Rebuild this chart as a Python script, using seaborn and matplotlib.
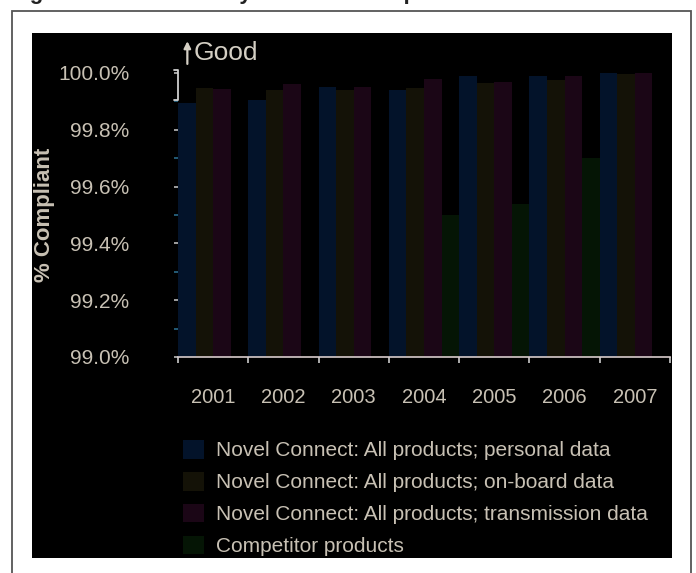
import matplotlib
matplotlib.use("Agg")
import matplotlib.pyplot as plt
import matplotlib.patches as mpatches
import numpy as np
import pandas as pd
import seaborn as sns

# values (% compliant); None = no visible bar
years = ["2001", "2002", "2003", "2004", "2005", "2006", "2007"]
personal = [99.895, 99.905, 99.95, 99.94, 99.99, 99.99, 100.0]
onboard = [99.947, 99.94, 99.94, 99.947, 99.965, 99.975, 99.997]
transmission = [99.944, 99.96, 99.95, 99.98, 99.97, 99.99, 100.0]
competitor = [None, None, None, 99.50, 99.54, 99.70, None]

series = ["Novel Connect: All products; personal data",
          "Novel Connect: All products; on-board data",
          "Novel Connect: All products; transmission data",
          "Competitor products"]
colors = ["#03132a", "#141207", "#1b0616", "#051505"]
yticks = [99.0, 99.2, 99.4, 99.6, 99.8, 100.0]

rows = []
for name, vals in zip(series, [personal, onboard, transmission, competitor]):
    for yr, v in zip(years, vals):
        rows.append({"year": yr, "series": name, "value": v})
df = pd.DataFrame(rows).dropna()

sns.set_style("dark")
font = ["Liberation Sans", "DejaVu Sans"]
txt = "#c8c1b4"

W, H = 696, 573
fig = plt.figure(figsize=(W / 100, H / 100), dpi=100, facecolor="white")

# frame and black panel (behind the axes)
fig.patches.append(mpatches.Rectangle((12 / W, -0.05), 679 / W, 1.05 - 11 / H,
                                      transform=fig.transFigure, fill=False,
                                      edgecolor="#555555", linewidth=1.3, zorder=-10))
fig.patches.append(mpatches.Rectangle((32 / W, 1 - 558 / H), 640 / W, 525 / H,
                                      transform=fig.transFigure, facecolor="black",
                                      edgecolor="none", zorder=-10))
fig.text(10 / W, 1 + 1.5 / H, "Figure 1: Data Security Protocol Compliance",
         fontsize=16, fontweight="bold", color="#222222", va="baseline",
         family=font)

ax = fig.add_axes([178 / W, 1 - 357 / H, 492 / W, 284 / H])
ax.set_facecolor("black")
ax.patch.set_alpha(0)
sns.barplot(data=df, x="year", y="value", hue="series", order=years,
            hue_order=series, palette=colors, width=1.0, linewidth=0,
            saturation=1, errorbar=None, ax=ax)

ax.set_ylim(99.0, 100.0)
ax.set_xlim(-0.5, 6.5)
ax.grid(False)
for s in ["top", "right", "left"]:
    ax.spines[s].set_visible(False)
ax.spines["bottom"].set_color("#d8cccc")
ax.spines["bottom"].set_linewidth(1.2)

ax.set_yticks(yticks)
ax.set_yticklabels([f"{v:.1f}%" for v in yticks], family=font, fontsize=15, color=txt)
ax.set_yticks(np.arange(99.1, 100.0, 0.2), minor=True)
ax.tick_params(axis="y", which="major", length=3, width=1.2, color="#bbbbbb", pad=32, left=True)
ax.tick_params(axis="y", which="minor", length=3, width=1.2, color="#2a6a8a", left=True)

ax.set_xticks(range(len(years)))
ax.set_xticklabels(years, family=font, fontsize=14.5, color=txt)
ax.set_xticks(np.arange(-0.5, 7, 1), minor=True)
ax.tick_params(axis="x", which="major", length=0, pad=22)
ax.tick_params(axis="x", which="minor", length=4, width=1.2, color="#cccccc", bottom=True)

ax.set_xlabel("")
ax.set_ylabel("% Compliant", family=font, fontsize=16, fontweight="bold", color=txt)
ax.yaxis.set_label_coords(-0.25, 0.5)

# axis break bracket and "Good" marker
yx = ax.get_yaxis_transform()
ax.plot([-0.008, 0.0, 0.0, -0.008], [100.01, 100.01, 99.905, 99.905],
        transform=yx, color="#cfcfcf", lw=1.3, clip_on=False)
ax.annotate("", xy=(0.019, 1.112), xytext=(0.019, 1.032), xycoords="axes fraction",
            arrowprops=dict(arrowstyle="-|>", color="#d4cfc4", lw=1.6,
                            mutation_scale=10, shrinkA=0, shrinkB=0))
ax.text(0.031, 1.072, "Good", transform=ax.transAxes, fontsize=19,
        color="#d4cfc4", va="center", ha="left", family=font)

leg = ax.legend(loc="upper left", bbox_to_anchor=(183 / W, 1 - 440 / H),
                bbox_transform=fig.transFigure, frameon=False, borderpad=0,
                borderaxespad=0, handlelength=1.0, handleheight=1.0,
                handletextpad=0.6, labelspacing=0.55,
                prop={"family": font, "size": 15})
for t in leg.get_texts():
    t.set_color(txt)

fig.savefig("out.png", dpi=100, facecolor="white")
plt.close(fig)
